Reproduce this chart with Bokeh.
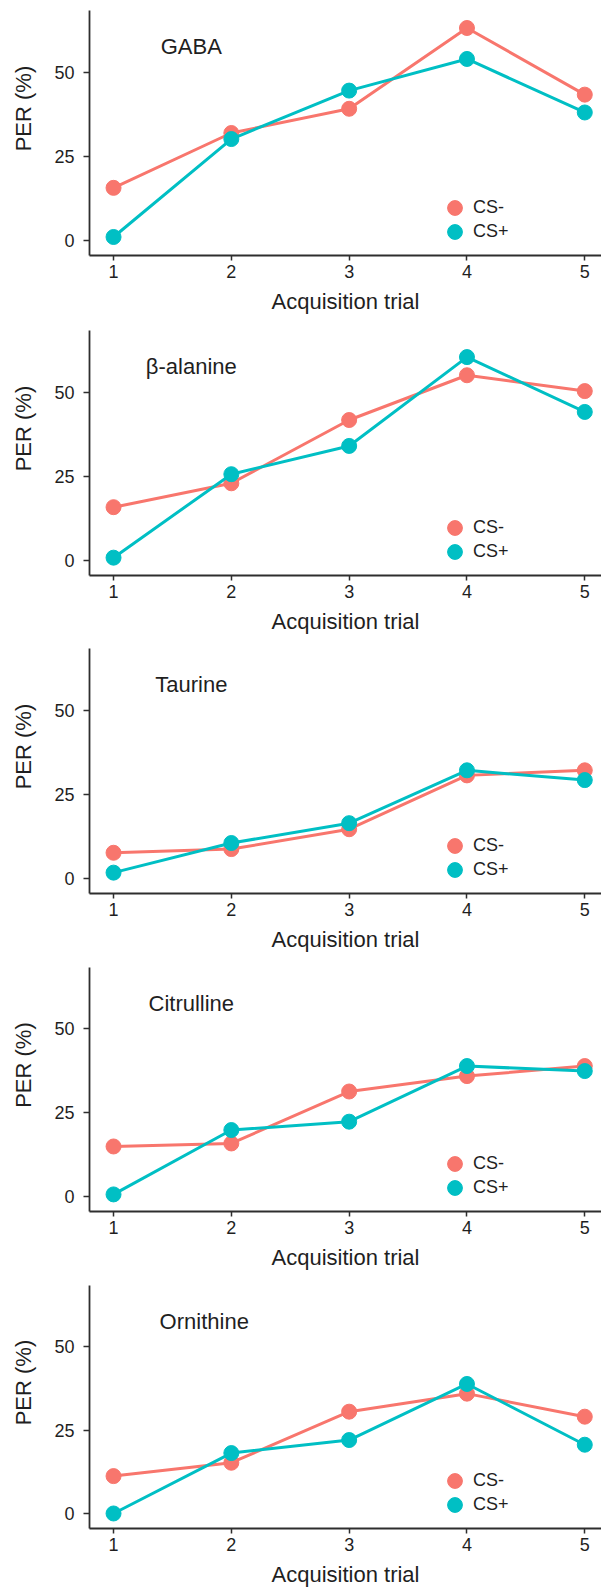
from bokeh.plotting import figure
from bokeh.models import Range1d, FixedTicker, Label, Legend, LegendItem, ColumnDataSource
from bokeh.layouts import column
from bokeh.embed import file_html
from bokeh.resources import INLINE

# ---- data ----
trials = [1, 2, 3, 4, 5]
substances = ["GABA", "β-alanine", "Taurine", "Citrulline", "Ornithine"]

gaba_cs_minus = [15.6, 31.9, 39.1, 63.1, 43.3]
gaba_cs_plus = [1.0, 30.1, 44.5, 53.9, 38.0]
balanine_cs_minus = [15.8, 22.9, 41.7, 55.0, 50.3]
balanine_cs_plus = [0.8, 25.6, 34.0, 60.4, 44.1]
taurine_cs_minus = [7.6, 8.7, 14.6, 30.6, 32.1]
taurine_cs_plus = [1.7, 10.5, 16.4, 32.1, 29.2]
citrulline_cs_minus = [14.9, 15.8, 31.3, 35.9, 38.9]
citrulline_cs_plus = [0.6, 19.8, 22.3, 38.9, 37.4]
ornithine_cs_minus = [11.2, 15.2, 30.5, 35.9, 29.0]
ornithine_cs_plus = [0.0, 18.1, 22.0, 38.8, 20.6]

series_labels = ["CS-", "CS+"]
y_ticks = [0, 25, 50]

cs_minus_all = [gaba_cs_minus, balanine_cs_minus, taurine_cs_minus,
                citrulline_cs_minus, ornithine_cs_minus]
cs_plus_all = [gaba_cs_plus, balanine_cs_plus, taurine_cs_plus,
               citrulline_cs_plus, ornithine_cs_plus]

# ---- layout / style ----
FONT = "Liberation Sans"
TXT = "#1f1f1f"
AX = "#2e2e2e"
COL_MINUS = "#F8766D"
COL_PLUS = "#00BFC4"
heights = [318, 318, 318, 318, 317]
tops = [10, 12, 12, 13, 13]
title_x = [1.66, 1.66, 1.66, 1.66, 1.77]
X0, X1 = 0.796, 5.142
Y0, Y1 = -4.5, 68.3


def make_legend(label, renderer, y):
    return Legend(items=[LegendItem(label=label, renderers=[renderer])],
                  location=(347, y), orientation="vertical",
                  border_line_color=None, background_fill_alpha=0,
                  padding=0, margin=0, spacing=0,
                  glyph_width=37, glyph_height=37, label_height=37,
                  label_standoff=0, label_text_font=FONT,
                  label_text_font_size="18px", label_text_color=TXT)


figs = []
for i, name in enumerate(substances):
    h = heights[i]
    bt = tops[i]
    fh = 245
    bb = h - bt - fh
    p = figure(width=601, height=h,
               x_range=Range1d(X0, X1), y_range=Range1d(Y0, Y1),
               output_backend="svg", toolbar_location=None,
               min_border_left=89, min_border_right=0,
               min_border_top=bt, min_border_bottom=bb)
    p.outline_line_color = None
    p.xgrid.grid_line_color = None
    p.ygrid.grid_line_color = None
    p.background_fill_color = "white"

    # axes
    p.xaxis.ticker = FixedTicker(ticks=trials)
    p.yaxis.ticker = FixedTicker(ticks=y_ticks)
    for ax in (p.xaxis, p.yaxis):
        ax.axis_line_color = AX
        ax.axis_line_width = 1.8
        ax.major_tick_line_color = AX
        ax.major_tick_line_width = 1.5
        ax.major_tick_in = 0
        ax.minor_tick_line_color = None
        ax.major_label_text_font = FONT
        ax.major_label_text_font_size = "18px"
        ax.major_label_text_color = TXT
        ax.axis_label_text_font = FONT
        ax.axis_label_text_font_size = "22px"
        ax.axis_label_text_font_style = "normal"
        ax.axis_label_text_color = TXT
    p.xaxis.major_tick_out = 5
    p.xaxis.major_label_standoff = 4
    p.yaxis.major_tick_out = 6
    p.yaxis.major_label_standoff = 9
    p.xaxis.axis_label = "Acquisition trial"
    p.xaxis.axis_label_standoff = 8
    # label sits above the frame centre, as in the original
    p.yaxis.axis_label = "\u00a0" * 8 + "PER (%)"
    p.yaxis.axis_label_standoff = 15

    src_m = ColumnDataSource(dict(x=trials, y=cs_minus_all[i]))
    src_p = ColumnDataSource(dict(x=trials, y=cs_plus_all[i]))
    lm = p.line("x", "y", source=src_m, line_color=COL_MINUS, line_width=3)
    sm = p.scatter("x", "y", source=src_m, size=15, fill_color=COL_MINUS,
                   line_color=COL_MINUS)
    lp = p.line("x", "y", source=src_p, line_color=COL_PLUS, line_width=3)
    sp = p.scatter("x", "y", source=src_p, size=15, fill_color=COL_PLUS,
                   line_color=COL_PLUS)

    p.add_layout(make_legend(series_labels[0], sm, 29))
    p.add_layout(make_legend(series_labels[1], sp, 5))

    # panel title
    p.add_layout(Label(x=title_x[i], y=57.5, text=name,
                       text_align="center", text_baseline="middle",
                       text_font=FONT, text_font_size="22px", text_color=TXT))
    figs.append(p)

layout = column(*figs, spacing=0)
open("out.html", "w").write(file_html(layout, INLINE))
